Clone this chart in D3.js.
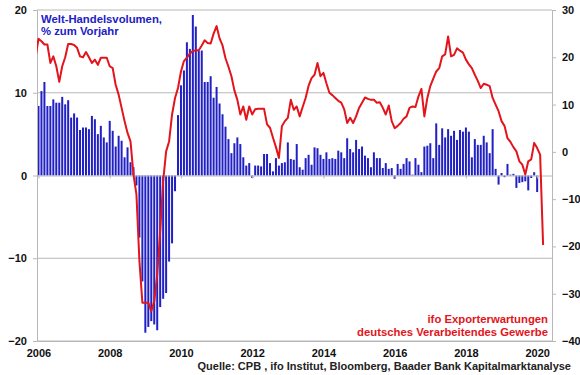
<!DOCTYPE html>
<html>
<head>
<meta charset="utf-8">
<script src="https://cdn.jsdelivr.net/npm/d3@7"></script>
<style>
  body { margin: 0; background: #fff; }
  svg { font-family: "Liberation Sans", Arial, sans-serif; font-weight: bold; }
</style>
</head>
<body>
<div id="chart"></div>
<script>
// Welt-Handelsvolumen, % zum Vorjahr (monthly, from Jan 2006)
const tradeStart = 2006;
const tradeVolume = [
  8.4, 10.2, 11.3, 8.4, 8.4, 9.2, 8.8, 8.8, 9.5, 8.6, 9.1, 7.0,
  7.5, 7.0, 5.5, 5.8, 5.8, 5.6, 7.2, 6.8, 5.0, 6.0, 4.6, 4.0,
  6.6, 5.4, 3.5, 4.8, 4.2, 2.2, 3.4, 1.6, 1.0, -1.2, -7.5, -12.8,
  -19.0, -18.3, -17.6, -18.0, -18.7, -15.9, -14.9, -14.2, -10.4, -8.2, -1.9, 7.3,
  10.9, 12.7, 16.1, 15.3, 19.4, 18.0, 15.1, 15.1, 11.3, 11.3, 12.0, 9.4,
  10.7, 8.7, 7.4, 5.9, 4.4, 2.7, 3.9, 4.6, 3.8, 2.2, 1.2, 1.5,
  -0.3, 1.2, 1.2, 1.1, 2.6, 2.6, 1.5, 0.5, 2.1, 1.2, 1.5, 1.6,
  4.0, 2.0, 1.9, 3.8, 1.0, 0.7, 2.1, 2.5, 1.3, 3.4, 3.3, 2.5,
  2.0, 2.8, 2.0, 2.1, 2.0, 3.0, 2.8, 2.1, 4.5, 3.2, 2.8, 4.3,
  3.2, 3.5, 2.4, 2.1, 1.0, 2.8, 2.1, 2.1, 0.9, 1.5, 0.8, 0.9,
  -0.4, 1.4, 0.8, 1.4, 2.1, 1.7, 0.1, 2.1, 1.3, 0.4, 3.5, 3.6,
  3.9, 2.1, 6.3, 3.7, 5.7, 4.6, 5.6, 4.8, 5.4, 4.3, 5.5, 5.3,
  5.8, 5.3, 2.2, 4.4, 3.7, 3.7, 4.8, 4.0, 2.7, 5.6, 0.8, -1.1,
  0.3, -0.2, 1.4, 0.1, 0.2, -1.5, -0.9, -0.8, -0.7, -1.8, -0.3, 0.4,
  -2.0
];

// ifo Exporterwartungen, deutsches Verarbeitendes Gewerbe (monthly, from Dec 2005)
const ifoStart = 2005 + 11 / 12;
const ifoExport = [
  19.9,
  23.9, 23.4, 22.7, 22.7, 18.8, 20.2, 18.1, 14.8, 18.1, 20.0, 22.8, 22.8,
  22.6, 22.0, 20.2, 20.0, 21.1, 20.0, 18.8, 19.5, 18.4, 19.9, 19.9, 19.9,
  18.1, 17.7, 14.2, 12.1, 9.3, 6.5, 4.0, 2.2, -4.8, -9.0, -23.0, -31.9,
  -31.9, -31.9, -33.7, -31.6, -26.0, -16.8, -6.2, 0.1, 2.2, 7.9, 11.4, 13.5,
  17.0, 19.2, 19.9, 20.8, 21.3, 21.5, 21.5, 22.5, 23.6, 23.0, 22.9, 25.0,
  26.6, 24.0, 22.5, 19.8, 18.0, 16.0, 13.0, 11.0, 7.9, 9.6, 6.8, 9.6,
  7.9, 9.0, 9.1, 9.1, 9.1, 5.8, 5.1, 3.0, 1.0, -1.3, 5.4, 6.5,
  7.2, 11.0, 8.9, 9.6, 7.5, 9.5, 11.4, 14.0, 15.6, 16.3, 18.8, 16.0,
  16.7, 14.5, 12.5, 12.0, 11.4, 10.8, 10.4, 9.0, 6.1, 7.2, 6.1, 7.5,
  9.3, 10.4, 11.5, 11.2, 11.0, 11.0, 10.4, 10.5, 9.3, 7.9, 9.8, 6.5,
  5.0, 5.5, 6.1, 7.0, 7.5, 9.3, 9.6, 9.5, 11.7, 13.3, 7.5, 11.4,
  13.9, 15.5, 17.0, 17.7, 20.2, 20.6, 24.4, 20.2, 20.5, 21.9, 21.4, 21.0,
  19.5, 18.5, 17.7, 16.3, 15.0, 13.5, 14.4, 14.2, 13.9, 11.4, 10.0, 8.6,
  6.5, 5.5, 2.9, 2.1, 1.0, 0.1, -2.0, -2.7, -4.8, -2.0, -1.6, 1.9,
  0.8, -0.6, -19.7
];

const yearTicks = [2006, 2008, 2010, 2012, 2014, 2016, 2018, 2020];
const leftTicks = [-20, -10, 0, 10, 20];
const rightTicks = [-40, -30, -20, -10, 0, 10, 20, 30];

const width = 580, height = 375;
const plot = {left: 37, right: 552, top: 10, bottom: 341};
const blue = "#2020c4", red = "#e3141b", grid = "#b8b8b8";

const svg = d3.select("#chart").append("svg")
    .attr("width", width)
    .attr("height", height);

const x = d3.scaleLinear()
    .domain([2006 - 0.5 / 12, 2020 + 5 / 12])
    .range([plot.left, plot.right]);
const yLeft = d3.scaleLinear().domain([-20, 20]).range([plot.bottom, plot.top]);
const yRight = d3.scaleLinear().domain([-40, 30]).range([plot.bottom, plot.top]);

// horizontal gridlines
svg.append("g")
    .selectAll("line")
    .data(leftTicks.filter(d => d !== 0))
    .join("line")
    .attr("x1", plot.left).attr("x2", plot.right)
    .attr("y1", d => yLeft(d)).attr("y2", d => yLeft(d))
    .attr("stroke", grid)
    .attr("stroke-width", 1);

// bars
svg.append("g")
    .selectAll("rect")
    .data(tradeVolume)
    .join("rect")
    .attr("x", (d, i) => x(tradeStart + i / 12) - 1)
    .attr("width", 2)
    .attr("y", d => yLeft(Math.max(0, d)))
    .attr("height", d => Math.abs(yLeft(d) - yLeft(0)))
    .attr("fill", blue);

// zero axis with year ticks
const zeroAxis = svg.append("g")
    .attr("transform", `translate(0,${yLeft(0)})`)
    .call(d3.axisBottom(x).tickValues(yearTicks).tickSize(3).tickFormat(""));
zeroAxis.selectAll("path, line").attr("stroke", grid);

// year labels at bottom
const bottomAxis = svg.append("g")
    .attr("transform", `translate(0,${plot.bottom})`)
    .call(d3.axisBottom(x).tickValues(yearTicks).tickSize(0).tickPadding(8).tickFormat(d3.format("d")));
bottomAxis.select(".domain").attr("stroke", grid);

// left axis
const leftAxis = svg.append("g")
    .attr("transform", `translate(${plot.left},0)`)
    .call(d3.axisLeft(yLeft).tickValues(leftTicks).tickSize(4).tickPadding(6));
leftAxis.selectAll("path, line").attr("stroke", grid);

// right axis
const rightAxis = svg.append("g")
    .attr("transform", `translate(${plot.right},0)`)
    .call(d3.axisRight(yRight).tickValues(rightTicks).tickSize(4).tickPadding(6));
rightAxis.selectAll("path, line").attr("stroke", grid);

svg.selectAll(".tick text")
    .attr("font-family", "'Liberation Sans', Arial, sans-serif")
    .attr("font-size", 11)
    .attr("font-weight", "bold")
    .attr("fill", "#111");

// ifo line
svg.append("clipPath").attr("id", "plotClip")
    .append("rect")
    .attr("x", plot.left).attr("y", plot.top)
    .attr("width", plot.right - plot.left).attr("height", plot.bottom - plot.top);

const line = d3.line()
    .x((d, i) => x(ifoStart + i / 12))
    .y(d => yRight(d));

svg.append("path")
    .datum(ifoExport)
    .attr("clip-path", "url(#plotClip)")
    .attr("d", line)
    .attr("fill", "none")
    .attr("stroke", red)
    .attr("stroke-width", 2)
    .attr("stroke-linejoin", "round");

// labels
svg.append("text")
    .attr("x", 41).attr("y", 23)
    .attr("font-size", 11.3)
    .attr("fill", blue)
    .text("Welt-Handelsvolumen,");
svg.append("text")
    .attr("x", 41).attr("y", 35)
    .attr("font-size", 11.3)
    .attr("fill", blue)
    .text("% zum Vorjahr");

svg.append("text")
    .attr("x", 548).attr("y", 323)
    .attr("text-anchor", "end")
    .attr("font-size", 11.3)
    .attr("fill", red)
    .text("ifo Exporterwartungen");
svg.append("text")
    .attr("x", 548).attr("y", 336)
    .attr("text-anchor", "end")
    .attr("font-size", 11.3)
    .attr("fill", red)
    .text("deutsches Verarbeitendes Gewerbe");

svg.append("text")
    .attr("x", 571).attr("y", 370)
    .attr("text-anchor", "end")
    .attr("font-size", 11)
    .attr("fill", "#222")
    .text("Quelle: CPB , ifo Institut, Bloomberg, Baader Bank Kapitalmarktanalyse");
</script>
</body>
</html>
